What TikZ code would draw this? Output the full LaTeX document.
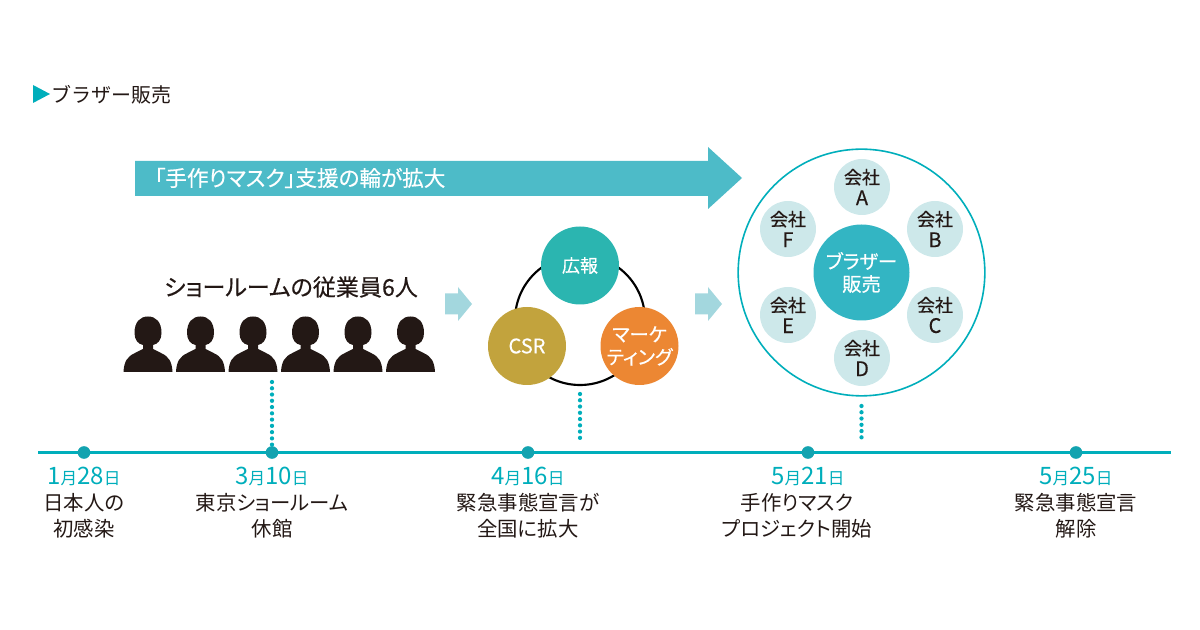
\documentclass[tikz,border=0pt]{standalone}
\usepackage{fontspec}
\setmainfont{Noto Sans CJK JP}
\newfontfamily\kanafont[RawFeature=+palt]{Noto Sans CJK JP}
\newfontfamily\heavyfont[RawFeature=+palt, FakeBold=0.35]{Noto Sans CJK JP}
\usetikzlibrary{calc}
\definecolor{lineteal}{HTML}{00AEBB}
\definecolor{dotteal}{HTML}{13A3B0}
\definecolor{arrowteal}{HTML}{4DBBC8}
\definecolor{paleteal}{HTML}{A3D7DE}
\definecolor{companyfill}{HTML}{CDE8EA}
\definecolor{centerfill}{HTML}{33B5C3}
\definecolor{prfill}{HTML}{2BB5B0}
\definecolor{csrfill}{HTML}{C2A33D}
\definecolor{mktfill}{HTML}{EC8733}
\definecolor{inkblack}{HTML}{231815}
\tikzset{
	bodytext/.style={text=inkblack, inner sep=0, align=center, font=\kanafont\fontsize{15.3}{19.5}\selectfont},
	datetext/.style={text=lineteal, inner sep=0, font=\fontsize{12.5}{14}\selectfont},
	teamdisc/.style={circle, minimum size=58.5pt, inner sep=0, text=white, align=center, font=\heavyfont\fontsize{13.5}{17}\selectfont},
	companydisc/.style={circle, fill=companyfill, minimum size=42pt, inner sep=0, text=inkblack, align=center, font=\heavyfont\fontsize{13.5}{15.75}\selectfont},
	timedot/.style={circle, fill=dotteal, minimum size=9.5pt, inner sep=0},
	dottedlink/.style={lineteal, line width=3.2pt, line cap=round, dash pattern=on 0pt off 4.7pt},
}
\def\person(#1){\fill[inkblack, shift={(#1)}] (-24.5,0) .. controls (-24,-10) and (-21,-15.5) .. (-13,-19) -- (-5,-23) -- (-5,-27) .. controls (-10,-28) and (-13.5,-32) .. (-13.5,-39) .. controls (-13.5,-50) and (-8,-55.5) .. (0,-55.5) .. controls (8,-55.5) and (13.5,-50) .. (13.5,-39) .. controls (13.5,-32) and (10,-28) .. (5,-27) -- (5,-23) -- (13,-19) .. controls (21,-15.5) and (24,-10) .. (24.5,0) -- cycle;}
\def\sidearrow(#1){\fill[paleteal, shift={(#1)}] (0,-10.5) -- (13,-10.5) -- (13,-17) -- (27,0) -- (13,17) -- (13,10.5) -- (0,10.5) -- cycle;}
\def\monthday#1#2{\fontsize{18}{20}\selectfont #1\fontsize{12.5}{14}\selectfont 月\fontsize{18}{20}\selectfont #2\fontsize{12.5}{14}\selectfont 日}
\def\company#1{会社\\{\fontsize{15}{15.75}\selectfont #1}}

\begin{document}
\begin{tikzpicture}[x=0.75pt, y=-0.75pt]
		%%%%% START %%%%%
		\useasboundingbox (0, 0) rectangle (1200, 630);
		
		% heading
		\fill[lineteal] (33, 85) -- (50, 94) -- (33, 103) -- cycle;
		\node[bodytext, font=\fontsize{15}{19.5}\selectfont, anchor=west] (heading) at (51, 95) {ブラザー販売};
		
		% long arrow
		\fill[arrowteal] (135, 161) -- (708, 161) -- (708, 147) -- (742, 178) -- (708, 209) -- (708, 196) -- (135, 196) -- cycle;
		\node[bodytext, text=white, font=\heavyfont\fontsize{16.2}{19}\selectfont] (arrowtext) at (300, 178) {「手作りマスク」支援の輪が拡大};
		
		% staff
		\node[bodytext, font=\heavyfont\fontsize{17.3}{19}\selectfont] (staff) at (291, 287) {ショールームの従業員6人};
		\person(148, 372)
		\person(200.5, 372)
		\person(253, 372)
		\person(305.5, 372)
		\person(358, 372)
		\person(410.5, 372)
		
		\sidearrow(445, 304)
		\sidearrow(695, 304)
		
		% team ring
		\node[circle, draw=black, line width=1.6pt, minimum size=97.5pt, inner sep=0] (ring) at (580, 320) {};
		\node[teamdisc, fill=prfill] (pr) at (580, 265.5) {広報};
		\node[teamdisc, fill=csrfill, font=\heavyfont\fontsize{15}{17}\selectfont] (csr) at (527, 346) {CSR};
		\node[teamdisc, fill=mktfill, font=\heavyfont\fontsize{14.5}{17}\selectfont] (mkt) at (639.5, 346) {マーケ\\ティング};
		
		% companies
		\node[circle, draw=lineteal, line width=1.2pt, minimum size=185pt, inner sep=0] (outer) at (861.5, 272.5) {};
		\node[teamdisc, fill=centerfill, minimum size=72pt, font=\heavyfont\fontsize{14.5}{17}\selectfont] (brother) at (861.5, 272.5) {ブラザー\\販売};
		\node[companydisc] (coa) at (862, 187) {\company{A}};
		\node[companydisc] (cob) at (935, 229) {\company{B}};
		\node[companydisc] (coc) at (935, 315) {\company{C}};
		\node[companydisc] (cod) at (862, 358) {\company{D}};
		\node[companydisc] (coe) at (788, 315) {\company{E}};
		\node[companydisc] (cof) at (788, 229) {\company{F}};
		
		% timeline
		\coordinate (lineleft) at (38, 452.5);
		\coordinate (lineright) at (1171, 452.5);
		\draw[lineteal, line width=2.2pt] (lineleft) -- (lineright);
		\node[timedot] (jan) at (84, 452.5) {};
		\node[timedot] (mar) at (272, 452.5) {};
		\node[timedot] (apr) at (528, 452.5) {};
		\node[timedot] (mayA) at (808, 452.5) {};
		\node[timedot] (mayB) at (1076, 452.5) {};
		
		\coordinate (marlink) at (272, 382);
		\coordinate (teamlinkA) at (580, 394);
		\coordinate (teamlinkB) at (580, 441);
		\coordinate (colinkA) at (861.5, 406);
		\coordinate (colinkB) at (861.5, 442);
		\draw[dottedlink] (marlink) -- (mar);
		\draw[dottedlink] (teamlinkA) -- (teamlinkB);
		\draw[dottedlink] (colinkA) -- (colinkB);
		
		\node[datetext] (jandate) at (84, 476) {\monthday{1}{28}};
		\node[datetext] (mardate) at (272, 476) {\monthday{3}{10}};
		\node[datetext] (aprdate) at (528, 476) {\monthday{4}{16}};
		\node[datetext] (mayAdate) at (808, 476) {\monthday{5}{21}};
		\node[datetext] (mayBdate) at (1076, 476) {\monthday{5}{25}};
		
		\node[bodytext] (jantext) at (84, 516) {日本人の\\初感染};
		\node[bodytext] (martext) at (272, 516) {東京ショールーム\\休館};
		\node[bodytext] (aprtext) at (528, 516) {緊急事態宣言が\\全国に拡大};
		\node[bodytext] (mayAtext) at (797, 516) {手作りマスク\\プロジェクト開始};
		\node[bodytext] (mayBtext) at (1076, 516) {緊急事態宣言\\解除};
		
		%%%%% END %%%%%
	\end{tikzpicture}
\end{document}
